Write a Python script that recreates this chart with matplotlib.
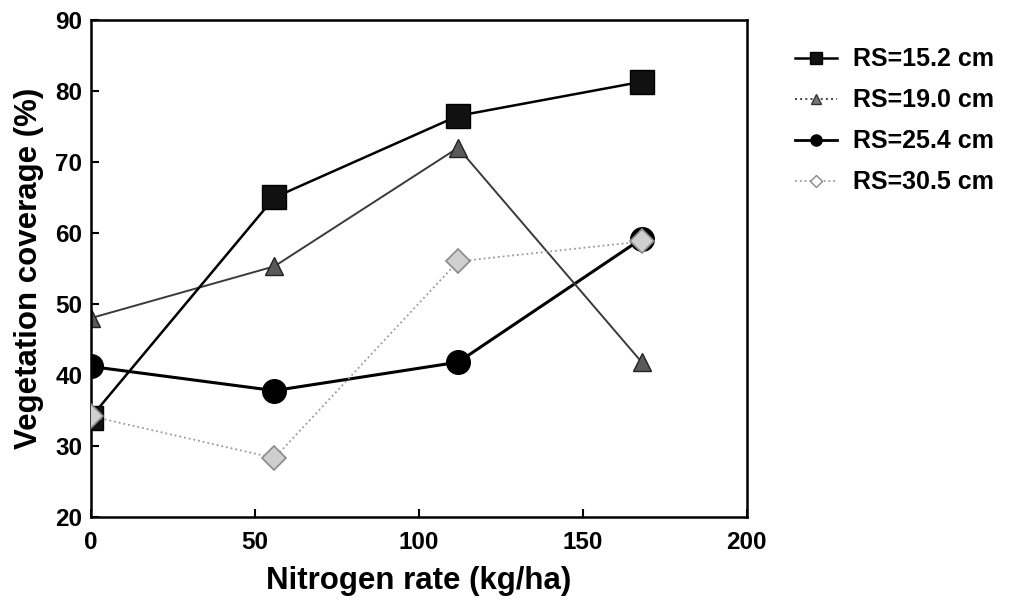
import numpy as np
import matplotlib
matplotlib.use('Agg')
import matplotlib.pyplot as plt
from matplotlib.lines import Line2D

plt.rcParams['font.family'] = ['Liberation Sans', 'DejaVu Sans']
plt.rcParams['font.weight'] = 'bold'

nitrogen = [0, 56, 112, 168]
rs_152 = [34.0, 65.0, 76.5, 81.3]
rs_190 = [48.0, 55.3, 72.0, 41.8]
rs_254 = [41.2, 37.8, 41.8, 59.2]
rs_305 = [34.2, 28.3, 56.0, 58.8]
labels = ['RS=15.2 cm', 'RS=19.0 cm', 'RS=25.4 cm', 'RS=30.5 cm']

fig = plt.figure(figsize=(10.11, 6.07), dpi=100)
ax = fig.add_axes([0.0897, 0.1483, 0.6489, 0.8188])

ax.plot(nitrogen, rs_305, color='#9a9a9a', lw=1.3, ls=':', marker='D', ms=12,
        mfc='#cfcfcf', mec='#8a8a8a', mew=1.2, zorder=3)
ax.plot(nitrogen, rs_254, color='black', lw=2.2, ls='-', marker='o', ms=17,
        mfc='black', mec='black', zorder=2)
ax.plot(nitrogen, rs_190, color='#3a3a3a', lw=1.4, ls='-', marker='^', ms=13,
        mfc='#5a5a5a', mec='#222222', zorder=2)
ax.plot(nitrogen, rs_152, color='black', lw=1.8, ls='-', marker='s', ms=17,
        mfc='#111111', mec='black', zorder=2)

ax.set_xlim(0, 200)
ax.set_ylim(20, 90)
ax.set_xticks([0, 50, 100, 150, 200])
ax.set_yticks([20, 30, 40, 50, 60, 70, 80, 90])
ax.tick_params(direction='in', length=6, width=1.5, labelsize=17.5)
ax.tick_params(axis='x', pad=10)
ax.tick_params(axis='y', pad=6)
for lab in ax.get_xticklabels() + ax.get_yticklabels():
    lab.set_fontweight('bold')
for s in ax.spines.values():
    s.set_linewidth(1.8)

ax.set_xlabel('Nitrogen rate (kg/ha)', fontsize=22.5, fontweight='bold', labelpad=9)
ax.set_ylabel('Vegetation coverage (%)', fontsize=22.5, fontweight='bold', labelpad=8)

# legend key, styles as drawn in the original key
handles = [
    Line2D([], [], color='black', lw=1.8, ls='-', marker='s', ms=8, mfc='#111111'),
    Line2D([], [], color='#444444', lw=1.4, ls=':', marker='^', ms=7, mfc='#777777', mec='#333333'),
    Line2D([], [], color='black', lw=2.0, ls='-', marker='o', ms=8, mfc='black'),
    Line2D([], [], color='#9a9a9a', lw=1.3, ls=':', marker='D', ms=6, mfc='white', mec='#888888'),
]
leg = fig.legend(handles, labels, loc='upper left', bbox_to_anchor=(0.786, 0.922),
                 frameon=False, handlelength=1.7, labelspacing=0.68,
                 handletextpad=0.64, borderpad=0, borderaxespad=0,
                 prop={'weight': 'bold', 'size': 18})

fig.savefig('out.png', dpi=100)
